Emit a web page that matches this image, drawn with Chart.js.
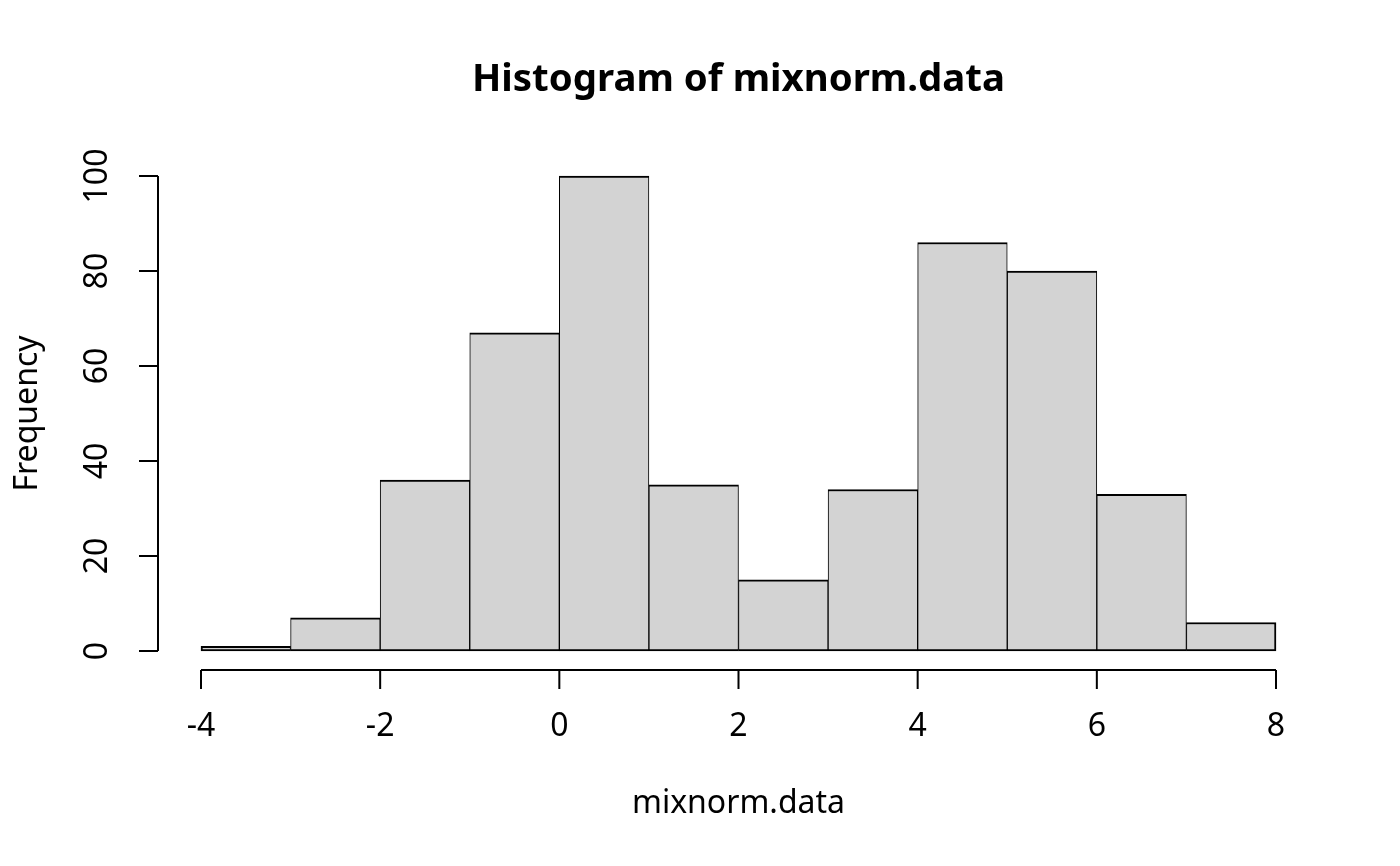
<!DOCTYPE html>
<html>
<head>
<meta charset="utf-8">
<script src="https://cdn.jsdelivr.net/npm/chart.js@4.4.0/dist/chart.umd.min.js"></script>
<style>
  body { margin: 0; background: #fff; }
  #wrap { width: 1400px; height: 866px; position: relative; }
</style>
</head>
<body>
<div id="wrap"><canvas id="hist"></canvas></div>
<script>
// histogram bins (left edges) and counts
var binStarts = [-4, -3, -2, -1, 0, 1, 2, 3, 4, 5, 6, 7];
var counts = [1, 7, 36, 67, 100, 35, 15, 34, 86, 80, 33, 6];
var xTicks = [-4, -2, 0, 2, 4, 6, 8];
var yTicks = [0, 20, 40, 60, 80, 100];

var titulo = 'Histogram of mixnorm.data';
var xLabel = 'mixnorm.data';
var yLabel = 'Frequency';

var fuente = '"Noto Sans", "Open Sans", sans-serif';
var tamTicks = 32;
var tamTitulo = 38.4;

var puntos = binStarts.map(function (b, i) {
  return { x: b + 0.5, y: counts[i] };
});
var ultimo = puntos.length - 1;

// R style axes drawn from the chart's own scales
var ejesR = {
  id: 'ejesR',
  afterDraw: function (chart) {
    var c = chart.ctx;
    var area = chart.chartArea;
    var sx = chart.scales.x;
    var sy = chart.scales.y;
    var largo = 19;

    c.save();
    c.strokeStyle = '#000';
    c.fillStyle = '#000';
    c.lineWidth = 2;

    // x axis
    var yEje = area.bottom;
    c.beginPath();
    c.moveTo(sx.getPixelForValue(xTicks[0]), yEje);
    c.lineTo(sx.getPixelForValue(xTicks[xTicks.length - 1]), yEje);
    xTicks.forEach(function (t) {
      var px = sx.getPixelForValue(t);
      c.moveTo(px, yEje);
      c.lineTo(px, yEje + largo);
    });
    c.stroke();
    c.font = tamTicks + 'px ' + fuente;
    c.textAlign = 'center';
    c.textBaseline = 'middle';
    xTicks.forEach(function (t) {
      c.fillText(String(t), sx.getPixelForValue(t), 727);
    });

    // y axis
    var xEje = area.left;
    c.beginPath();
    c.moveTo(xEje, sy.getPixelForValue(yTicks[0]));
    c.lineTo(xEje, sy.getPixelForValue(yTicks[yTicks.length - 1]));
    yTicks.forEach(function (t) {
      var py = sy.getPixelForValue(t);
      c.moveTo(xEje, py);
      c.lineTo(xEje - largo, py);
    });
    c.stroke();
    yTicks.forEach(function (t) {
      c.save();
      c.translate(98, sy.getPixelForValue(t));
      c.rotate(-Math.PI / 2);
      c.fillText(String(t), 0, 0);
      c.restore();
    });

    // axis titles
    c.fillText(xLabel, (area.left + area.right) / 2, 804);
    c.save();
    c.translate(28, (area.top + area.bottom) / 2);
    c.rotate(-Math.PI / 2);
    c.fillText(yLabel, 0, 0);
    c.restore();

    // main title
    c.font = 'bold ' + tamTitulo + 'px ' + fuente;
    c.fillText(titulo, (area.left + area.right) / 2, 80);
    c.restore();
  }
};

new Chart(document.getElementById('hist'), {
  type: 'bar',
  data: {
    datasets: [{
      data: puntos,
      backgroundColor: '#D3D3D3',
      borderColor: '#000',
      borderSkipped: false,
      borderWidth: function (ctx) {
        var i = ctx.dataIndex;
        return { top: 2, bottom: 2, left: i === 0 ? 2 : 1, right: i === ultimo ? 2 : 1 };
      },
      barPercentage: 1,
      categoryPercentage: 1
    }]
  },
  options: {
    responsive: true,
    maintainAspectRatio: false,
    devicePixelRatio: 1,
    animation: false,
    layout: { padding: { left: 158, right: 81, top: 157, bottom: 196 } },
    plugins: {
      legend: { display: false },
      tooltip: { enabled: false },
      title: { display: false }
    },
    scales: {
      x: {
        type: 'linear', min: -4.48, max: 8.48, offset: false, display: false,
        grid: { offset: false },
        ticks: { stepSize: 1, includeBounds: false }
      },
      y: { min: -4, max: 104, display: false }
    }
  },
  plugins: [ejesR]
});
</script>
</body>
</html>
